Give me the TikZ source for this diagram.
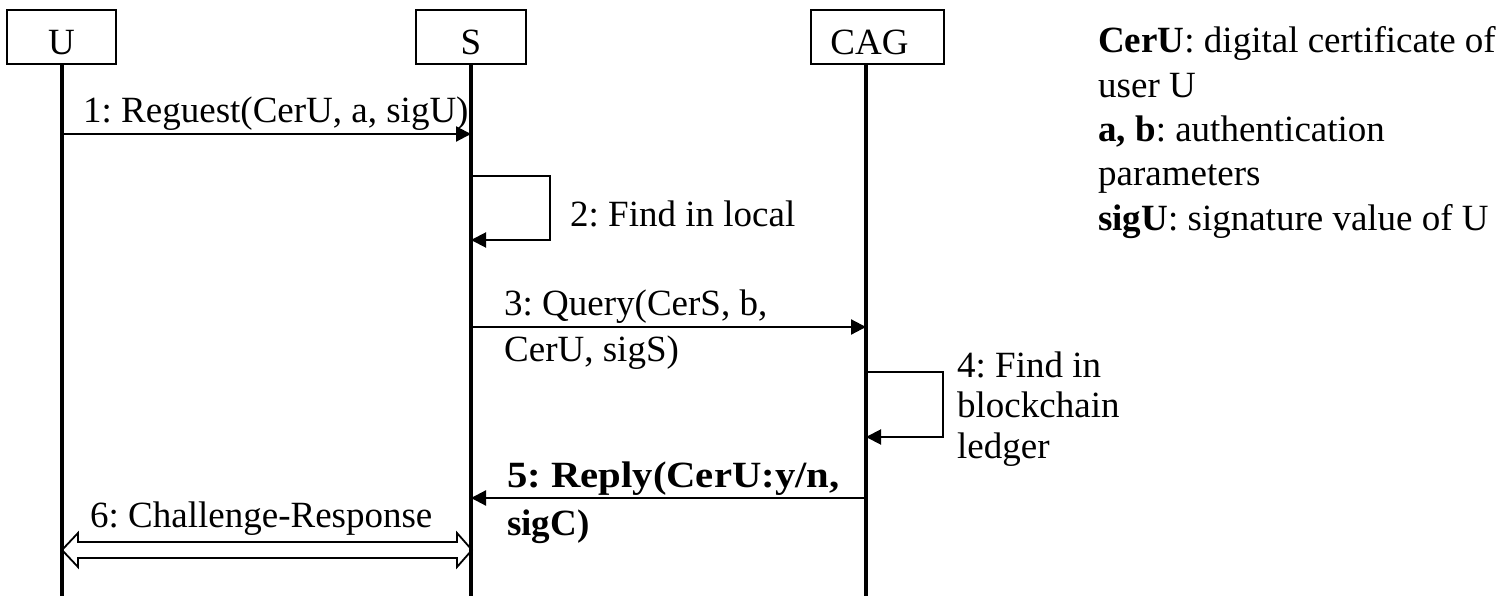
\documentclass[tikz,border=0pt]{standalone}
\usepackage{fontspec}
\setmainfont{Liberation Serif}
\usetikzlibrary{arrows.meta,calc}
\newcommand{\txtlines}[2]{{\fontsize{37}{#1}\selectfont\begin{tabular}[t]{@{}l@{}}#2\end{tabular}}}
\begin{document}
\frenchspacing
\begin{tikzpicture}[x=1pt,y=-1pt,
  font=\fontsize{37}{44}\selectfont\frenchspacing,
  actor/.style={draw, line width=1.3pt, minimum height=54pt, inner sep=0pt, text height=36pt, text depth=0pt},
  life/.style={line width=3.4pt},
  msg/.style={line width=2.2pt, -{Triangle[length=15pt,width=15pt]}},
  selfmsg/.style={line width=2pt, line join=miter, -{Triangle[length=15pt,width=15pt]}},
  dblarrow/.style={line width=1.8pt, line join=miter},
  lbl/.style={anchor=base west, inner sep=0pt}]
\useasboundingbox (0,0) rectangle (1505,596);

% actors
\node[actor, minimum width=109pt] (U) at (61.5,37) {U};
\node[actor, minimum width=110pt] (S) at (471,37) {S};
\node[actor, minimum width=133pt] (C) at (877.5,37) {CAG\kern16pt};

% lifeline coordinates
\coordinate (Ut) at (62,64);  \coordinate (Ub) at (62,596);
\coordinate (St) at (471,64); \coordinate (Sb) at (471,596);
\coordinate (Ct) at (866,64); \coordinate (Cb) at (866,596);
\draw[life] (Ut) -- (Ub);
\draw[life] (St) -- (Sb);
\draw[life] (Ct) -- (Cb);

% message endpoints
\coordinate (u1) at (62,134);  \coordinate (s1) at (471,134);
\coordinate (s2a) at (471,176); \coordinate (s2b) at (471,240);
\coordinate (s3) at (471,327); \coordinate (c3) at (866,327);
\coordinate (c4a) at (866,372); \coordinate (c4b) at (866,437);
\coordinate (c5) at (866,498); \coordinate (s5) at (471,498);
\coordinate (u6) at (62,550); \coordinate (s6) at (472,550);

% 1
\draw[msg] (u1) -- (s1);
\node[lbl] (l1) at (83,123) {1: Reguest(CerU, a, sigU)};
% 2
\draw[selfmsg] (s2a) -- ++(79,0) -- ++(0,64) -- (s2b);
\node[lbl] (l2) at (570,227) {2: Find in local};
% 3
\draw[msg] (s3) -- (c3);
\node[lbl] (l3) at (504,315) {\txtlines{46.7}{3: Query(CerS, b,\\CerU, sigS)}};
% 4
\draw[selfmsg] (c4a) -- ++(77,0) -- ++(0,65) -- (c4b);
\node[lbl] (l4) at (957,377) {\txtlines{40.7}{4: Find in\\blockchain\\ledger}};
% 5
\draw[msg] (c5) -- (s5);
\node[lbl] (l5) at (507,487) {\txtlines{48}{\scalebox{1.1}[1]{\textbf{5: Reply(CerU:y/n,}}\\\textbf{sigC)}}};
% 6
\draw[dblarrow] (u6) -- ++(16,-17) -- ++(0,9) -- ($(s6)+(-15,-8)$) -- ++(0,-9) -- (s6)
  -- ++(-15,17) -- ++(0,-9) -- ($(u6)+(16,8)$) -- ++(0,9) -- cycle;
\node[lbl] (l6) at (90,527) {6: Challenge-Response};

% legend
\node[lbl] (leg) at (1098,53) {\txtlines{44.3}{\textbf{CerU}: digital certificate of\\user U\\\textbf{a, b}: authentication\\parameters\\\textbf{sigU}: signature value of U}};
\end{tikzpicture}
\end{document}
